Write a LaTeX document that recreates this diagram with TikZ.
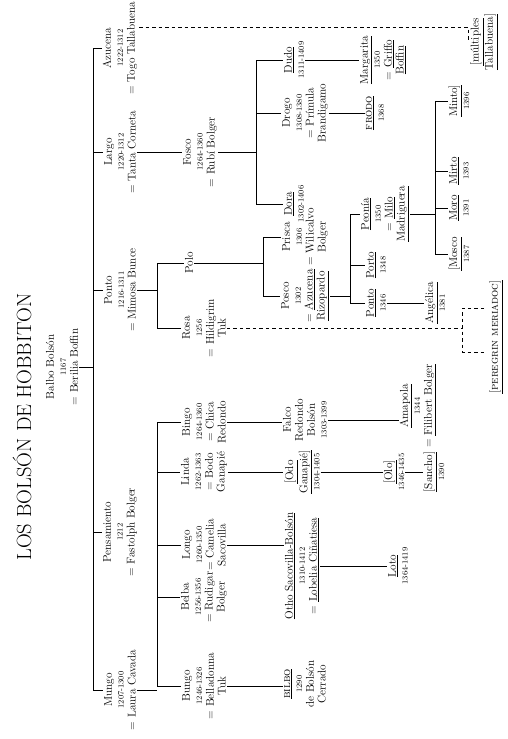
\documentclass[tikz,border=0pt]{standalone}
\usepackage{fontspec}
\newcommand{\dte}[1]{{\fontsize{8}{9}\selectfont #1}}
\begin{document}
\begin{tikzpicture}[x=1pt,y=-1pt,
 p/.style={rotate=90, align=center, inner sep=1pt, font=\fontsize{11.3}{11.9}\selectfont},
 ln/.style={line width=0.7pt},
 dsh/.style={line width=0.7pt, dash pattern=on 3.5pt off 3pt}]
\useasboundingbox (0,0) rectangle (507,739);
\fill[white] (0,0) rectangle (507,739);
% title
\node[p, font=\fontsize{20.5}{24}\selectfont] (title) at (22,427) {LOS BOLSÓN DE HOBBITON};
% generation 0 and 1
\node[p] (balbo) at (62,367) {Balbo Bolsón\\\dte{1167}\\= Berilia Boffin};
\node[p] (azucena) at (120,48) {Azucena\\\dte{1222-1312}\\= Togo Tallabuena};
\node[p] (largo) at (120,152) {Largo\\\dte{1220-1312}\\= Tanta Corneta};
\node[p] (ponto) at (120,290) {Ponto\\\dte{1216-1311}\\= Mimosa Bunce};
\node[p] (pensam) at (120,532) {Pensamiento\\\dte{1212}\\= Fastolph Bolger};
\node[p] (mungo) at (120,690) {Mungo\\\dte{1207-1300}\\= Laura Cavada};
% generation 2
\node[p] (fosco) at (200,152) {Fosco\\\dte{1264-1360}\\= Rubí Bolger};
\node[p] (polo) at (189,263) {Polo};
\node[p] (rosa) at (204,328) {Rosa\\\dte{1256}\\= Hildigrim\\Tuk};
\node[p] (bingo) at (204,422) {Bingo\\\dte{1264-1360}\\= Chica\\Redondo};
\node[p] (linda) at (204,472) {Linda\\\dte{1262-1363}\\= Bodo\\Ganapié};
\node[p] (longo) at (204,545) {Longo\\\dte{1260-1350}\\= Camelia\\Sacovilla};
\node[p] (belba) at (204,597) {Belba\\\dte{1256-1356}\\= Rudigar\\Bolger};
\node[p] (bungo) at (204,686) {Bungo\\\dte{1246-1326}\\= Belladonna\\Tuk};
% generation 3
\node[p] (dudo) at (294,60) {\underline{Dudo}\\\dte{1311-1409}};
\node[p] (drogo) at (305,113) {Drogo\\\dte{1308-1380}\\= Prímula\\Brandigamo};
\node[p] (dora) at (294,204) {\underline{Dora}\\\dte{1302-1406}};
\node[p] (prisca) at (305,237) {Prisca\\\dte{1306}\\= Wilicalvo\\Bolger};
\node[p] (posco) at (305,296) {Posco\\\dte{1302}\\= \underline{Azucena}\\\underline{Rizopardo}};
\node[p] (falco) at (305,420) {Falco\\Redondo\\Bolsón\\\dte{1303-1399}};
\node[p] (odo) at (302,472) {\underline{[Odo}\\\underline{Ganapié]}\\\dte{1304-1405}};
\node[p] (otho) at (302,566) {\underline{Otho Sacovilla-Bolsón}\\\dte{1310-1412}\\= \underline{Lobelia Ciñatiesa}};
\node[p] (bilbo) at (305,684) {\underline{\textsc{bilbo}}\\\dte{1290}\\de Bolsón\\Cerrado};
% generation 4
\node[p] (margarita) at (383,60) {\underline{Margarita}\\\dte{1350}\\= \underline{Griffo}\\\underline{Boffin}};
\node[p] (frodo) at (375,113) {\underline{\textsc{frodo}}\\\dte{1368}};
\node[p] (peonia) at (385,214) {\underline{Peonía}\\\dte{1350}\\= \underline{Milo}\\\underline{Madriguera}};
\node[p] (porto) at (376,265) {\underline{Porto}\\\dte{1348}};
\node[p] (pontob) at (376,303) {\underline{Ponto}\\\dte{1346}};
\node[p] (amapola) at (418,406) {\underline{Amapola}\\\dte{1344}\\= \underline{Filibert Bolger}};
\node[p] (olo) at (394,472) {\underline{[Olo]}\\\dte{1346-1435}};
\node[p] (loto) at (398,566) {\underline{Loto}\\\dte{1364-1419}};
% generation 5
\node[p] (angelica) at (435,303) {\underline{Angélica}\\\dte{1381}};
\node[p] (sancho) at (434,472) {\underline{[Sancho]}\\\dte{1390}};
\node[p] (minto) at (459,101) {\underline{Minto]}\\\dte{1396}};
\node[p] (mirto) at (459,171) {\underline{Mirto}\\\dte{1393}};
\node[p] (moro) at (459,208) {\underline{Moro}\\\dte{1391}};
\node[p] (mosco) at (459,254) {\underline{[Mosco}\\\dte{1387}};
\node[p] (multi) at (484,42) {\underline{[múltiples}\\\underline{Tallabuena]}};
\node[p] (peregrin) at (496,337) {\underline{[\textsc{peregrin meriadoc}]}};
% bus coordinates
\coordinate (b1) at (93,0);
\coordinate (b2) at (157,0);
\coordinate (b3) at (263,0);
\coordinate (b4) at (256,0);
\coordinate (b5) at (350,0);
\coordinate (b6) at (435,0);
% Balbo
\draw[ln] (balbo.south) -- (balbo.south -| b1);
\draw[ln] (azucena.north -| b1) -- (mungo.north -| b1);
\foreach \c in {azucena,largo,ponto,pensam,mungo} \draw[ln] (\c.north -| b1) -- (\c.north);
% Largo
\draw[ln] (largo.south) -- (fosco.north);
\draw[ln] (fosco.south) -- (fosco.south -| b4);
\draw[ln] (dudo.north -| b4) -- (dora.north -| b4);
\foreach \c in {dudo,drogo,dora} \draw[ln] (\c.north -| b4) -- (\c.north);
\draw[ln] (dudo.south) -- (margarita.north);
\draw[ln] (drogo.south) -- (frodo.north);
% Ponto
\draw[ln] (ponto.south) -- (ponto.south -| b2);
\draw[ln] (polo.north -| b2) -- (rosa.north -| b2);
\foreach \c in {polo,rosa} \draw[ln] (\c.north -| b2) -- (\c.north);
\draw[ln] (polo.south) -- (polo.south -| b3);
\draw[ln] (prisca.north -| b3) -- (posco.north -| b3);
\foreach \c in {prisca,posco} \draw[ln] (\c.north -| b3) -- (\c.north);
\draw[ln] (posco.south) -- (posco.south -| b5);
\draw[ln] (peonia.north -| b5) -- (pontob.north -| b5);
\foreach \c in {peonia,porto,pontob} \draw[ln] (\c.north -| b5) -- (\c.north);
\draw[ln] (pontob.south) -- (angelica.north);
\draw[ln] (peonia.south) -- (peonia.south -| b6);
\draw[ln] (minto.north -| b6) -- (mosco.north -| b6);
\foreach \c in {minto,mirto,moro,mosco} \draw[ln] (\c.north -| b6) -- (\c.north);
% Mungo
\draw[ln] (mungo.south) -- (mungo.south -| b2);
\draw[ln] (bingo.north -| b2) -- (bungo.north -| b2);
\foreach \c in {bingo,linda,longo,belba,bungo} \draw[ln] (\c.north -| b2) -- (\c.north);
\draw[ln] (bingo.south) -- (bingo.south -| falco.north);
\draw[ln] (falco.south) -- (falco.south -| amapola.north);
\draw[ln] (linda.south) -- (odo.north);
\draw[ln] (odo.south) -- (olo.north);
\draw[ln] (olo.south) -- (sancho.north);
\draw[ln] (longo.south) -- (longo.south -| otho.north);
\draw[ln] (otho.south) -- (loto.north);
\draw[ln] (bungo.south) -- (bungo.south -| bilbo.north);
% dashed links
\coordinate (tal) at (139,27);
\coordinate (tal2) at (468,27);
\draw[dsh] (tal) -- (tal2) -- (tal2 |- multi.center);
\coordinate (brT) at (462,308);
\coordinate (brB) at (462,352);
\coordinate (brT2) at (484,308);
\coordinate (brB2) at (484,352);
\draw[dsh] (rosa.south) -- (rosa.south -| brT);
\draw[dsh] (brT2) -- (brT) -- (brB) -- (brB2);
\end{tikzpicture}
\end{document}
